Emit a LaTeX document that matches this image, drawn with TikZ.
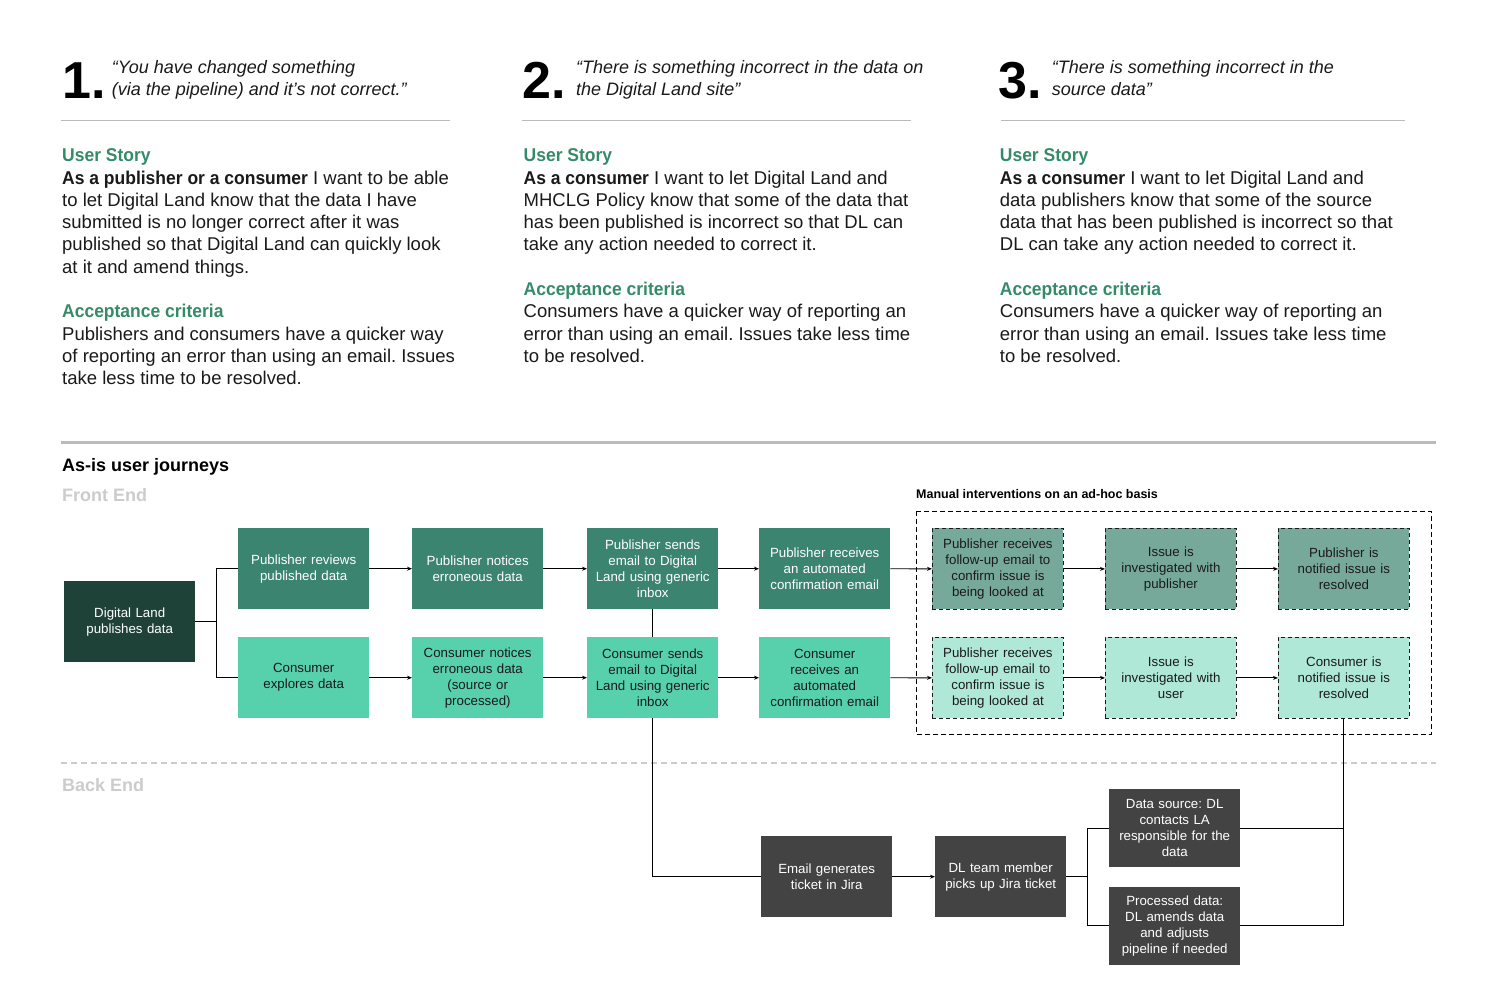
\documentclass[tikz,border=0pt]{standalone}
\usepackage{fontspec}
\setmainfont{Liberation Sans}
\newfontface\hb[FakeStretch=0.945]{Liberation Sans Bold}
\usetikzlibrary{arrows.meta}
\definecolor{hgreen}{HTML}{358B69}
\definecolor{dlc}{HTML}{1F4238}
\definecolor{pubc}{HTML}{3A8470}
\definecolor{conc}{HTML}{57D0AC}
\definecolor{pubdc}{HTML}{77A99A}
\definecolor{condc}{HTML}{B0E8D8}
\definecolor{grc}{HTML}{434343}
\definecolor{linec}{HTML}{BBBBBB}
\definecolor{fadec}{HTML}{CCCCCC}
\definecolor{txtc}{HTML}{1A1A1A}
\begin{document}
\frenchspacing
\begin{tikzpicture}[x=1pt,y=-1pt,
  para/.style={anchor=north west,align=left,inner sep=0pt,text=txtc,font=\fontsize{18.5}{22.3}\selectfont\frenchspacing},
  quote/.style={anchor=north west,align=left,inner sep=0pt,text=txtc,font=\fontsize{18}{21.7}\selectfont\itshape},
  bignum/.style={anchor=base west,inner sep=0pt,text=black,font=\fontsize{52}{52}\selectfont\bfseries},
  bx/.style={rectangle,anchor=north west,minimum width=131pt,minimum height=81pt,inner sep=0pt,text width=127pt,align=center,font=\fontsize{13.3}{16}\selectfont\frenchspacing},
  dlbox/.style={bx,fill=dlc,text=white},
  pubbox/.style={bx,fill=pubc,text=white},
  conbox/.style={bx,fill=conc,text=txtc},
  pubdash/.style={bx,fill=pubdc,text=txtc,draw=txtc,line width=0.8pt,dash pattern=on 4pt off 3pt},
  condash/.style={bx,fill=condc,text=txtc,draw=txtc,line width=0.8pt,dash pattern=on 4pt off 3pt},
  grbox/.style={bx,fill=grc,text=white},
  link/.style={draw=black,line width=0.9pt},
  arr/.style={link,-{Stealth[length=5pt,width=4pt]}},
  sect/.style={anchor=base west,inner sep=0pt,font=\fontsize{18}{22}\selectfont\bfseries}
]
\useasboundingbox[fill=white] (0,0) rectangle (1510,1000);

% ---------- header column 1 ----------
\node[bignum] (n1) at (62,98.5) {1.};
\node[quote] (q1) at (111.7,57.3) {\rule{0pt}{16pt}“You have changed something\\(via the pipeline) and it’s not correct.”};
\draw[linec,line width=1pt] (61,121) -- (450,121);
\node[para] (t1) at (62,145.5) {\rule{0pt}{16pt}\textcolor{hgreen}{\hb User Story}\\
{\hb As a publisher or a consumer} I want to be able\\
to let Digital Land know that the data I have\\
submitted is no longer correct after it was\\
published so that Digital Land can quickly look\\
at it and amend things.\\[22.3pt]
\textcolor{hgreen}{\hb Acceptance criteria}\\
Publishers and consumers have a quicker way\\
of reporting an error than using an email. Issues\\
take less time to be resolved.};

% ---------- header column 2 ----------
\node[bignum] (n2) at (522,98.5) {2.};
\node[quote] (q2) at (576,57.3) {\rule{0pt}{16pt}“There is something incorrect in the data on\\the Digital Land site”};
\draw[linec,line width=1pt] (522,121) -- (911,121);
\node[para] (t2) at (523.5,145.5) {\rule{0pt}{16pt}\textcolor{hgreen}{\hb User Story}\\
{\hb As a consumer} I want to let Digital Land and\\
MHCLG Policy know that some of the data that\\
has been published is incorrect so that DL can\\
take any action needed to correct it.\\[22.3pt]
\textcolor{hgreen}{\hb Acceptance criteria}\\
Consumers have a quicker way of reporting an\\
error than using an email. Issues take less time\\
to be resolved.};

% ---------- header column 3 ----------
\node[bignum] (n3) at (998,98.5) {3.};
\node[quote] (q3) at (1051.7,57.3) {\rule{0pt}{16pt}“There is something incorrect in the\\source data”};
\draw[linec,line width=1pt] (1001,121) -- (1405,121);
\node[para] (t3) at (999.7,145.5) {\rule{0pt}{16pt}\textcolor{hgreen}{\hb User Story}\\
{\hb As a consumer} I want to let Digital Land and\\
data publishers know that some of the source\\
data that has been published is incorrect so that\\
DL can take any action needed to correct it.\\[22.3pt]
\textcolor{hgreen}{\hb Acceptance criteria}\\
Consumers have a quicker way of reporting an\\
error than using an email. Issues take less time\\
to be resolved.};

% ---------- section separators ----------
\draw[linec,line width=3pt] (61,442.3) -- (1436,442.3);
\node[sect,text=black] (asis) at (62,471.7) {As-is user journeys};
\node[sect,text=fadec] (fe) at (62,501.7) {Front End};
\draw[fadec,line width=1.8pt,dash pattern=on 6pt off 4pt] (61,763.3) -- (1436,763.3);
\node[sect,text=fadec] (be) at (62,791) {Back End};

% ---------- manual interventions frame ----------
\node[anchor=base west,inner sep=0pt,font=\fontsize{12.5}{14}\selectfont\bfseries] (mi) at (916,498.3) {Manual interventions on an ad-hoc basis};
\draw[black,line width=0.9pt,dash pattern=on 5pt off 3pt] (916,511) rectangle (1431,734.3);

% ---------- front end boxes ----------
\node[dlbox] (dl) at (64,581) {Digital Land\\publishes data};

\node[pubbox] (pr) at (238,528) {Publisher reviews\\published data};
\node[pubbox] (pn) at (412,528) {Publisher notices\\erroneous data};
\node[pubbox] (ps) at (587,528) {Publisher sends\\email to Digital\\Land using generic\\inbox};
\node[pubbox] (pa) at (759,528) {Publisher receives\\an automated\\confirmation email};
\node[pubdash] (pf) at (932,528) {Publisher receives\\follow-up email to\\confirm issue is\\being looked at};
\node[pubdash] (pi) at (1105,528) {Issue is\\investigated with\\publisher};
\node[pubdash] (pz) at (1278,528) {Publisher is\\notified issue is\\resolved};

\node[conbox] (ce) at (238,637) {Consumer\\explores data};
\node[conbox] (cn) at (412,637) {Consumer notices\\erroneous data\\(source or\\processed)};
\node[conbox] (cs) at (587,637) {Consumer sends\\email to Digital\\Land using generic\\inbox};
\node[conbox] (ca) at (759,637) {Consumer\\receives an\\automated\\confirmation email};
\node[condash] (cf) at (932,637) {Publisher receives\\follow-up email to\\confirm issue is\\being looked at};
\node[condash] (ci) at (1105,637) {Issue is\\investigated with\\user};
\node[condash] (cz) at (1278,637) {Consumer is\\notified issue is\\resolved};

% ---------- back end boxes ----------
\node[grbox] (em) at (761,836) {Email generates\\ticket in Jira};
\node[grbox] (dt) at (935,836) {DL team member\\picks up Jira ticket};
\node[grbox,minimum height=78pt] (ds) at (1109,789) {Data source: DL\\contacts LA\\responsible for the\\data};
\node[grbox,minimum height=78pt] (pd) at (1109,886.5) {Processed data:\\DL amends data\\and adjusts\\pipeline if needed};

% ---------- connectors ----------
\draw[link] (dl.east) -- ++(21,0) |- (pr.west);
\draw[link] (dl.east) -- ++(21,0) |- (ce.west);
\draw[arr] (pr) -- (pn);
\draw[arr] (pn) -- (ps);
\draw[arr] (ps) -- (pa);
\draw[arr] (pa) -- (pf);
\draw[arr] (pf) -- (pi);
\draw[arr] (pi) -- (pz);
\draw[arr] (ce) -- (cn);
\draw[arr] (cn) -- (cs);
\draw[arr] (cs) -- (ca);
\draw[arr] (ca) -- (cf);
\draw[arr] (cf) -- (ci);
\draw[arr] (ci) -- (cz);
\draw[link] (ps.south) -- (cs.north);
\draw[link] (cs.south) |- (em.west);
\draw[arr] (em) -- (dt);
\draw[link] (dt.east) -- ++(21,0) |- (ds.west);
\draw[link] (dt.east) -- ++(21,0) |- (pd.west);
\draw[link] (ds.east) -| (cz.south);
\draw[link] (pd.east) -| (cz.south);
\end{tikzpicture}
\end{document}
